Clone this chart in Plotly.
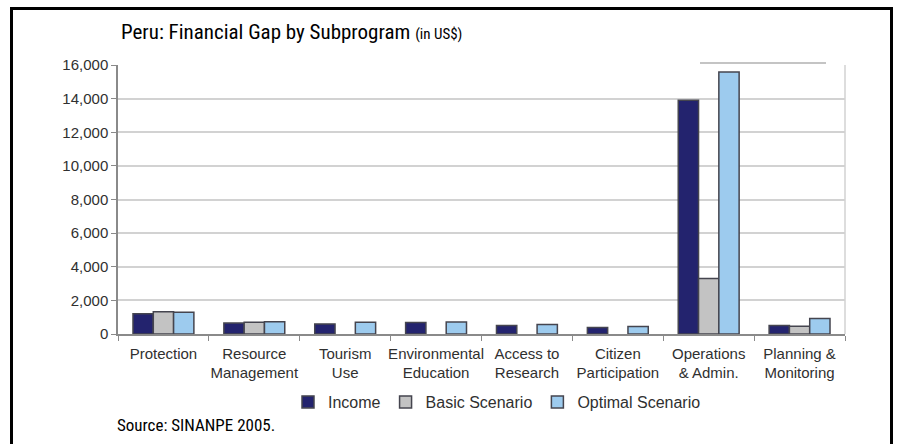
import plotly.graph_objects as go

# Subprogram categories (two-line tick labels)
categories = [
    "Protection", "Resource<br>Management", "Tourism<br>Use",
    "Environmental<br>Education", "Access to<br>Research", "Citizen<br>Participation",
    "Operations<br>& Admin.", "Planning &<br>Monitoring",
]

# Values in US$ (thousands)
income = [1200, 650, 600, 690, 510, 380, 13900, 500]
basic_scenario = [1330, 700, None, None, None, None, 3300, 460]
optimal_scenario = [1290, 730, 700, 710, 570, 450, 15580, 920]

y_ticks = [0, 2000, 4000, 6000, 8000, 10000, 12000, 14000, 16000]

series = [
    ("Income", income, "#23236e"),
    ("Basic Scenario", basic_scenario, "#c3c3c3"),
    ("Optimal Scenario", optimal_scenario, "#9dcbee"),
]

W, H = 899, 444
L, R, T, B = 118, 845, 65, 334  # plot area in pixels

fig = go.Figure()
for name, vals, color in series:
    fig.add_trace(go.Bar(
        x=categories, y=vals, name=name,
        marker=dict(color=color, line=dict(color="#45454f", width=1.5)),
    ))

def px(x):
    return (x - L) / (R - L)

def py(y):
    return (B - y) / (B - T)

sans = "Liberation Sans, Arial, sans-serif"
narrow = "Roboto Condensed, Liberation Sans, sans-serif"
label_color = "#303030"

fig.update_layout(
    width=W, height=H,
    margin=dict(l=L, r=W - R, t=T, b=H - B, pad=0),
    paper_bgcolor="white", plot_bgcolor="white",
    barmode="group", bargap=0.33, bargroupgap=0,
    showlegend=True,
    legend=dict(
        orientation="h", x=px(497), xanchor="center", y=py(402), yanchor="middle",
        font=dict(family=sans, size=16, color=label_color),
        itemwidth=30, traceorder="normal",
    ),
    xaxis=dict(
        type="category", tickson="boundaries", ticks="outside", ticklen=5,
        tickcolor="#8a8a8a", showline=True, linecolor="#8a8a8a", linewidth=1.5,
        showgrid=False, tickangle=0, ticklabelstandoff=5,
        tickfont=dict(family=sans, size=15, color=label_color),
        fixedrange=True,
    ),
    yaxis=dict(
        range=[0, 16000], tickvals=y_ticks, tickformat=",d",
        ticks="outside", ticklen=5, tickcolor="#8a8a8a",
        showline=True, linecolor="#8a8a8a", linewidth=1.5,
        gridcolor="#d2d2d2", gridwidth=1.5,
        tickfont=dict(family=sans, size=15, color=label_color),
        fixedrange=True,
    ),
    font=dict(family=sans),
)

# Light border on the right side of the plot area
fig.add_shape(type="line", xref="paper", yref="paper", x0=1, x1=1, y0=0, y1=1,
              line=dict(color="#d2d2d2", width=1.5))
# Thin rule above the top right of the plot area
fig.add_shape(type="line", xref="paper", yref="paper", x0=px(700), x1=px(826),
              y0=py(63), y1=py(63), line=dict(color="#b0b0b0", width=1.5))

# Black frame around the figure (open at the bottom)
fx0, fx1, fy0, fy1 = px(11.5), px(891.5), py(8.5), py(460)
fig.add_shape(type="path", xref="paper", yref="paper",
              path=f"M {fx0} {fy1} L {fx0} {fy0} L {fx1} {fy0} L {fx1} {fy1}",
              line=dict(color="black", width=3))

# Title
fig.add_annotation(
    xref="paper", yref="paper", x=px(119), y=py(32), xanchor="left", yanchor="middle",
    text="Peru: Financial Gap by Subprogram <span style='font-size:15px'>(in US$)</span>",
    showarrow=False, font=dict(family=narrow, size=21, color="black"),
)
# Source note
fig.add_annotation(
    xref="paper", yref="paper", x=px(115), y=py(425), xanchor="left", yanchor="middle",
    text="Source: SINANPE 2005.", showarrow=False,
    font=dict(family=narrow, size=17, color="black"),
)

fig.write_html("out.html")
